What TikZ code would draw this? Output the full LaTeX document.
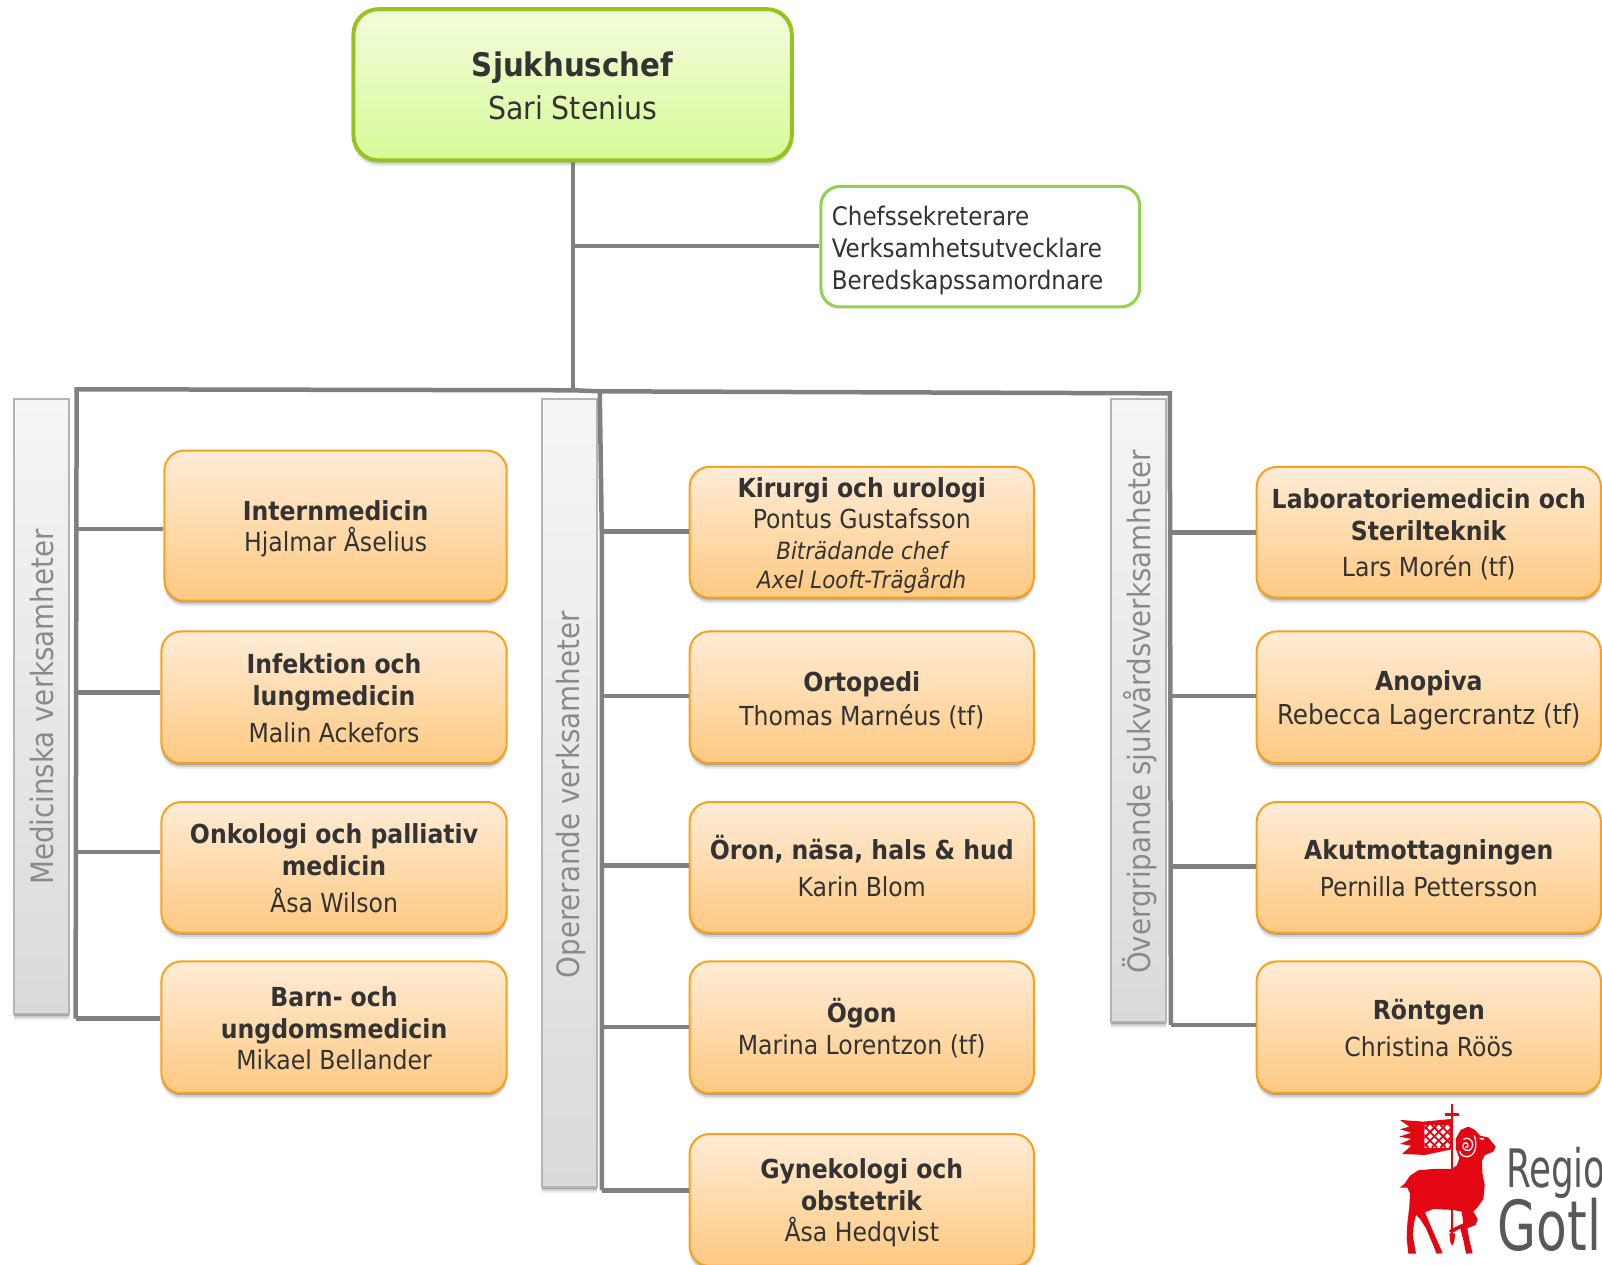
\documentclass[tikz,border=0pt]{standalone}
\usepackage{fontspec}
\setmainfont{DejaVu Sans Condensed}
\usetikzlibrary{shadows,calc}
\definecolor{txt}{HTML}{333333}
\definecolor{linegray}{HTML}{808080}
\definecolor{orangeedge}{HTML}{F9A11B}
\definecolor{orangetop}{HTML}{FFECD6}
\definecolor{orangebot}{HTML}{FEC982}
\definecolor{greenedge}{HTML}{97C31F}
\definecolor{secedge}{HTML}{92D050}
\definecolor{greentop}{HTML}{F2FCDC}
\definecolor{greenbot}{HTML}{D8FB97}
\definecolor{bartop}{HTML}{F5F5F5}
\definecolor{barbot}{HTML}{DADADA}
\definecolor{baredge}{HTML}{B4B4B4}
\definecolor{bartext}{HTML}{8A8A8A}
\definecolor{logored}{HTML}{E30613}
\definecolor{logogray}{HTML}{58585A}
\tikzset{
  softshadow/.style={drop shadow={shadow xshift=0pt,shadow yshift=-6pt,fill=black,opacity=.07},
                     drop shadow={shadow xshift=0pt,shadow yshift=-4pt,fill=black,opacity=.12},
                     drop shadow={shadow xshift=0pt,shadow yshift=-2pt,fill=black,opacity=.22}},
  unitbox/.style={draw=orangeedge,line width=2pt,rounded corners=20pt,top color=orangetop,bottom color=orangebot,
    softshadow,inner sep=0pt,anchor=north west},
  unittext/.style={text=txt,align=center,inner sep=0pt,font=\fontsize{26.2}{31.7}\selectfont},
  headbox/.style={draw=greenedge,line width=4pt,rounded corners=25pt,top color=greentop,bottom color=greenbot,
    softshadow,inner sep=0pt,anchor=north west},
  headtext/.style={text=txt,align=center,inner sep=0pt,font=\fontsize{31.5}{43}\selectfont},
  staffbox/.style={draw=secedge,line width=3pt,rounded corners=19pt,fill=white,inner sep=0pt,anchor=north west},
  stafftext/.style={text=txt,align=left,inner sep=0pt,anchor=west,font=\fontsize{25.6}{32}\selectfont},
  groupbar/.style={draw=baredge,line width=2pt,top color=bartop,bottom color=barbot,softshadow,anchor=north west,inner sep=0pt},
  grouptext/.style={text=bartext,rotate=90,inner sep=0pt,font=\fontsize{30.8}{34}\selectfont},
  trunk/.style={draw=linegray,line width=4pt},
  branch/.style={draw=linegray,line width=4.5pt},
}
% x, y, width, height, name, text, text offset
\newcommand{\bx}[7]{\node[unitbox,minimum width=1.0217*#3 pt,minimum height=1.0217*#4 pt] (#5) at (#1,#2) {};
  \node[unittext] (#5t) at ($(#5.center)+(0,#7)$) {#6};}
\newcommand{\itl}[1]{{\fontsize{23.8}{31.7}\selectfont\itshape #1}}
\begin{document}
\begin{tikzpicture}[x=1.0217pt,y=-1.0217pt]
\useasboundingbox (0,0) rectangle (1568,1238);
\clip (0,0) rectangle (1568,1238);
% junction coordinates
\coordinate (top) at (561,241);
\coordinate (rail) at (561,382);
\coordinate (railL) at (75,381);
\coordinate (railM) at (587,383);
\coordinate (railR) at (1145,385);
\coordinate (jL1) at (74,518);\coordinate (jL2) at (74,678);\coordinate (jL3) at (74,834);\coordinate (jL4) at (74,997);
\coordinate (jM1) at (589,520);\coordinate (jM2) at (589,681);\coordinate (jM3) at (589,847);\coordinate (jM4) at (589,1005);\coordinate (jM5) at (589,1165);
\coordinate (jR1) at (1146,521);\coordinate (jR2) at (1146,681);\coordinate (jR3) at (1146,848);\coordinate (jR4) at (1146,1003);
\node[headbox,minimum width=1.0217*429pt,minimum height=1.0217*148pt] (chief) at (344,7) {};
\node[headtext] (chieft) at ($(chief.center)+(0,1)$) {{\fontsize{32.5}{43}\selectfont\textbf{Sjukhuschef}}\\Sari Stenius};
\node[staffbox,minimum width=1.0217*312pt,minimum height=1.0217*118pt] (staff) at (802,181) {};
\node[stafftext] (stafft) at ($(staff.west)+(12,3.5)$) {Chefssekreterare\\Verksamhetsutvecklare\\Beredskapssamordnare};
\node[groupbar,minimum width=1.0217*54pt,minimum height=1.0217*601pt] (gL) at (13,390) {};
\node[groupbar,minimum width=1.0217*53pt,minimum height=1.0217*771pt] (gM) at (530,390) {};
\node[groupbar,minimum width=1.0217*54pt,minimum height=1.0217*609pt] (gR) at (1086,390) {};
\node[grouptext] (tL) at (41,692) {Medicinska verksamheter};
\node[grouptext] (tM) at (559,778) {Opererande verksamheter};
\node[grouptext] (tR) at (1115,697) {Övergripande sjukvårdsverksamheter};
\bx{160}{440}{335}{147}{b1}{\textbf{Internmedicin}\\Hjalmar Åselius}{3}
\bx{157}{617}{338}{129}{b2}{\textbf{Infektion och}\\\textbf{lungmedicin}\\[5pt]Malin Ackefors}{1}
\bx{157}{784}{338}{128}{b3}{\textbf{Onkologi och palliativ}\\\textbf{medicin}\\[5pt]Åsa Wilson}{1}
\bx{157}{940}{338}{129}{b4}{\textbf{Barn- och}\\\textbf{ungdomsmedicin}\\Mikael Bellander}{1}
\bx{674}{456}{337}{128}{c1}{\textbf{Kirurgi och urologi}\\Pontus Gustafsson\\[-1pt]\itl{Biträdande chef}\\[-3pt]\itl{Axel Looft-Trägårdh}}{3}
\bx{674}{617}{337}{129}{c2}{\textbf{Ortopedi}\\[2pt]Thomas Marnéus (tf)}{3}
\bx{674}{784}{337}{128}{c3}{\textbf{Öron, näsa, hals \& hud}\\[5pt]Karin Blom}{-1.5}
\bx{674}{940}{337}{129}{c4}{\textbf{Ögon}\\Marina Lorentzon (tf)}{1}
\bx{674}{1109}{337}{129}{c5}{\textbf{Gynekologi och}\\\textbf{obstetrik}\\Åsa Hedqvist}{3}
\bx{1229}{456}{337}{128}{d1}{\textbf{Laboratoriemedicin och}\\\textbf{Sterilteknik}\\[5pt]Lars Morén (tf)}{2}
\bx{1229}{617}{337}{129}{d2}{\textbf{Anopiva}\\[2pt]{\fontsize{27.4}{31.7}\selectfont Rebecca Lagercrantz (tf)}}{3}
\bx{1229}{784}{337}{128}{d3}{\textbf{Akutmottagningen}\\[5pt]Pernilla Pettersson}{1}
\bx{1229}{940}{337}{129}{d4}{\textbf{Röntgen}\\[5pt]Christina Röös}{1}
% connectors
\draw[trunk] (chief.south -| top) -- (rail);
\draw[branch] (top) -- (staff.west |- top);
\draw[branch,line cap=rect] (railL) -- (rail) -- (railM) -- (railR);
\draw[branch] (railL) -- (jL4);
\draw[branch] (railM) -- (jM1) -- (jM5);
\draw[branch] (railR) -- (jR4);
\draw[branch] (jL1) -- (b1.west |- jL1);
\draw[branch] (jL2) -- (b2.west |- jL2);
\draw[branch] (jL3) -- (b3.west |- jL3);
\draw[branch] (jL4) -- (b4.west |- jL4);
\draw[branch] (jM1) -- (c1.west |- jM1);
\draw[branch] (jM2) -- (c2.west |- jM2);
\draw[branch] (jM3) -- (c3.west |- jM3);
\draw[branch] (jM4) -- (c4.west |- jM4);
\draw[branch] (jM5) -- (c5.west |- jM5);
\draw[branch] (jR1) -- (d1.west |- jR1);
\draw[branch] (jR2) -- (d2.west |- jR2);
\draw[branch] (jR3) -- (d3.west |- jR3);
\draw[branch] (jR4) -- (d4.west |- jR4);
% logo text
\node[text=logogray,inner sep=0pt,anchor=base west,font=\fontsize{53}{53}\selectfont,xscale=.75] (lg1) at (1474,1162) {Regio};
\node[text=logogray,inner sep=0pt,anchor=base west,font=\fontsize{69}{69}\selectfont,xscale=.81] (lg2) at (1466,1224) {Gotl};
% logo ram
\begin{scope}[shift={(1360.5,1071.7)},xscale=.3263,yscale=.3263]
  \fill[logored] (30,278)--(45,265)--(60,242)--(85,226)--(130,222)--(183,222)--(200,212)--(208,190)--(197,160)--(198,130)--(212,105)--(235,95)--(255,105)--(270,122)--(295,128)--(317,155)--(310,170)--(285,180)--(276,197)--(277,235)--(284,270)--(280,312)--(262,338)--(250,350)--(263,372)--(257,390)--(232,400)--(238,435)--(248,475)--(228,476)--(221,440)--(211,400)--(190,412)--(178,412)--(178,405)--(205,392)--(220,385)--(215,350)--(190,345)--(130,342)--(105,352)--(125,400)--(145,445)--(158,475)--(140,476)--(125,440)--(108,400)--(90,372)--(78,360)--(72,385)--(68,420)--(78,476)--(55,476)--(50,430)--(52,385)--(58,335)--(60,295)--(52,278)--cycle;
  % staff, cross, foot
  \fill[logored] (182,28) rectangle (189,222);
  \fill[logored] (182,345) rectangle (189,420);
  \fill[logored] (165,55) rectangle (208,62);
  \fill[logored] (178,415)--(196,415)--(192,442)--(186,452)--(181,442)--cycle;
  % banner
  \fill[logored] (185,72)--(100,80)--(30,75)--(58,95)--(30,103)--(64,113)--(28,125)--(64,132)--(30,147)--(64,152)--(36,177)--(105,180)--(185,163)--cycle;
  \begin{scope}
    \clip (103,90) rectangle (180,158);
    \fill[white] (103,90) rectangle (180,158);
    \foreach \k in {-2,...,6}{
      \draw[logored,line width=1.8pt] (103+\k*26-30,90)--(103+\k*26+38,158);
      \draw[logored,line width=1.8pt] (103+\k*26+38,90)--(103+\k*26-30,158);
    }
  \end{scope}
  % horn and eye
  \draw[white,line width=1.3pt] (253,122) .. controls (262,150) and (258,178) .. (235,185) .. controls (222,187) and (212,180) .. (208,168);
  \draw[white,line width=1.3pt] (225,157) .. controls (233,160) and (238,150) .. (232,145) .. controls (222,140) and (216,150) .. (220,160) .. controls (228,172) and (246,168) .. (248,150) .. controls (249,135) and (232,124) .. (220,133);
  \fill[white] (268,128)--(282,130)--(280,135)--(270,133)--cycle;
\end{scope}
\end{tikzpicture}
\end{document}
